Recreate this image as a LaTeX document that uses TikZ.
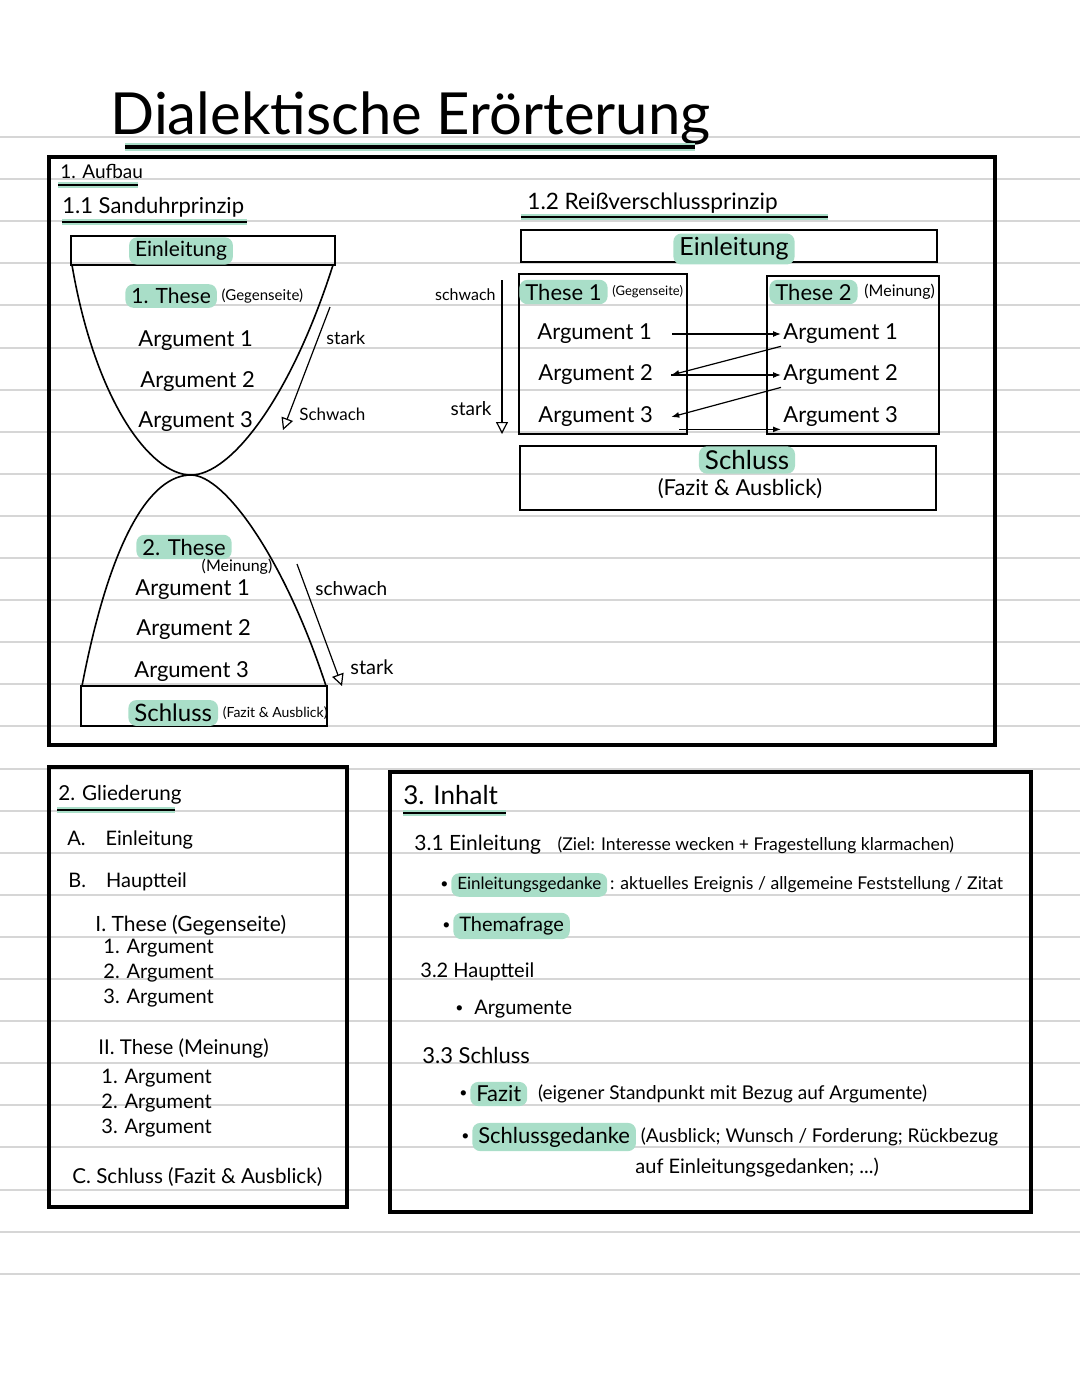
\documentclass[tikz,border=0pt]{standalone}
\usepackage{fontspec}
\setmainfont{Lato}
\usetikzlibrary{positioning,arrows.meta}
\definecolor{mint}{HTML}{A9DEC8}
\definecolor{paperline}{HTML}{D6D6D6}
\newcommand{\handsize}[1]{\fontsize{#1}{#1}\selectfont}

\begin{document}
\begin{tikzpicture}[yscale=-1,x=0.5pt,y=0.5pt,>=latex]
\tikzstyle{txt} = [inner sep=1pt, anchor=west, font=\handsize{10.5}]
\tikzstyle{hl} = [txt, fill=mint, rounded corners=4pt, inner xsep=3pt, inner ysep=2pt]
\tikzstyle{frame} = [line width=1.6pt]
\tikzstyle{box} = [line width=1pt]
\tikzstyle{glass} = [line width=0.8pt]
\tikzstyle{ul} = [line width=0.8pt, preaction={draw=mint, line width=3pt}]
\tikzstyle{trend} = [-{Triangle[open,length=6pt,width=6pt]}, line width=0.6pt]
\tikzstyle{zip} = [-{Latex[length=4pt,width=3pt]}, line width=0.6pt]

\useasboundingbox (0,0) rectangle (1080,1394);
\foreach \ly in {0,...,27}
  \draw[paperline, line width=1pt] (0,{137+42.1*\ly}) -- (1080,{137+42.1*\ly});

\node[txt, font=\handsize{29}] (Title) at (108,118) {Dialektische Erörterung};
\draw[ul, line width=1.6pt, preaction={draw=mint, line width=4pt}] (125,147) -- (695,147);

\draw[frame] (49,157) rectangle (995,745);
\draw[frame] (49,767) rectangle (347,1207);
\draw[frame] (390,772) rectangle (1031,1212);

\node[txt, font=\handsize{9.5}] (Aufbau) at (58,171) {1. Aufbau};
\draw[ul] (58,185) -- (138,185);
\node[txt, font=\handsize{11}] (Sanduhr) at (60,207) {1.1 Sanduhrprinzip};
\draw[ul] (62,222) -- (247,222);

\draw[box] (71,236) rectangle (335,265);
\draw[box] (81,686) rectangle (327,726);
\draw[glass] (72,265) .. controls (95,400) and (150,475) .. (191,475)
  .. controls (230,475) and (290,400) .. (333,265);
\draw[glass] (82,686) .. controls (110,540) and (150,475) .. (191,475)
  .. controls (225,475) and (285,560) .. (326,686);

\node[hl, anchor=center] (EinlA) at (181,251) {Einleitung};
\node[hl] (TheseA) at (125,296) {1. These};
\node[txt, font=\handsize{7.5}, right=1pt of TheseA] (TheseAnote) {(Gegenseite)};
\node[txt, font=\handsize{11}] (ArgA1) at (136,341) {Argument 1};
\node[txt, font=\handsize{11}] (ArgA2) at (138,382) {Argument 2};
\node[txt, font=\handsize{11}] (ArgA3) at (136,422) {Argument 3};
\coordinate (TopA) at (330,307);
\coordinate (BotA) at (283,430);
\draw[trend] (TopA) -- (BotA);
\node[txt, font=\handsize{9}] (StarkA) at (324,338) {stark};
\node[txt, font=\handsize{8.5}] (SchwachA) at (297,414) {Schwach};

\node[hl, font=\handsize{11}] (TheseB) at (136,547) {2. These};
\node[txt, anchor=center, font=\handsize{8}] (TheseBnote) at (237,567) {(Meinung)};
\node[txt, font=\handsize{11}] (ArgB1) at (133,590) {Argument 1};
\node[txt, font=\handsize{11}] (ArgB2) at (134,630) {Argument 2};
\node[txt, font=\handsize{11}] (ArgB3) at (132,672) {Argument 3};
\coordinate (TopB) at (297,564);
\coordinate (BotB) at (342,686);
\draw[trend] (TopB) -- (BotB);
\node[txt, font=\handsize{9.5}] (SchwachB) at (313,589) {schwach};
\node[txt, font=\handsize{10}] (StarkB) at (348,667) {stark};
\node[hl, font=\handsize{12}] (SchlussA) at (128,713) {Schluss};
\node[txt, font=\handsize{7}, right=1pt of SchlussA] (SchlussAnote) {(Fazit \& Ausblick)};

\node[txt, font=\handsize{11.3}] (Reiss) at (525,203) {1.2 Reißverschlussprinzip};
\draw[ul] (521,217) -- (828,217);
\draw[box] (521,230) rectangle (937,262);
\draw[box] (519,274) rectangle (687,434);
\draw[box] (767,276) rectangle (939,434);
\draw[box] (520,446) rectangle (936,510);

\node[hl, anchor=center, font=\handsize{12.5}] (EinlB) at (734,249) {Einleitung};
\node[hl, font=\handsize{11}] (TheseC) at (519,292) {These 1};
\node[txt, font=\handsize{6.5}, right=1pt of TheseC] (TheseCnote) {(Gegenseite)};
\node[hl, font=\handsize{11}] (TheseD) at (769,292) {These 2};
\node[txt, font=\handsize{8}, right=2pt of TheseD] (TheseDnote) {(Meinung)};
\node[txt, font=\handsize{11}] (ArgC1) at (535,334) {Argument 1};
\node[txt, font=\handsize{11}] (ArgC2) at (536,375) {Argument 2};
\node[txt, font=\handsize{11}] (ArgC3) at (536,417) {Argument 3};
\node[txt, font=\handsize{11}] (ArgD1) at (781,334) {Argument 1};
\node[txt, font=\handsize{11}] (ArgD2) at (781,375) {Argument 2};
\node[txt, font=\handsize{11}] (ArgD3) at (781,417) {Argument 3};
\draw[zip] ([xshift=9pt]ArgC1.east) -- (ArgD1.west);
\draw[zip] (ArgD1.south west) -- ([xshift=8pt]ArgC2.east);
\draw[zip] ([xshift=8pt]ArgC2.east) -- (ArgD2.west);
\draw[zip] (ArgD2.south west) -- ([xshift=8pt]ArgC3.east);
\draw[zip] ([xshift=12pt]ArgC3.south east) -- (ArgD3.south west);
\coordinate (TopC) at (502,280);
\coordinate (BotC) at (502,434);
\draw[trend] (TopC) -- (BotC);
\node[txt, anchor=east, font=\handsize{8}] (SchwachC) at (498,295) {schwach};
\node[txt, anchor=east, font=\handsize{9.5}] (StarkC) at (494,409) {stark};
\node[hl, anchor=center, font=\handsize{13}] (SchlussB) at (747,460) {Schluss};
\node[txt, anchor=center, font=\handsize{11}] (SchlussBnote) at (740,489) {(Fazit \& Ausblick)};

\node[txt, font=\handsize{10.3}] (Glied) at (56,795) {2. Gliederung};
\draw[ul] (57,810) -- (175,810);
\node[txt, font=\handsize{10}] (GlA) at (65,840) {A.\quad Einleitung};
\node[txt, font=\handsize{10}] (GlB) at (66,882) {B.\quad Hauptteil};
\node[txt, font=\handsize{10.5}] (GlI) at (93,925) {I. These (Gegenseite)};
\node[txt, font=\handsize{10}] (GlI1) at (101,948) {1. Argument};
\node[txt, font=\handsize{10}] (GlI2) at (101,973) {2. Argument};
\node[txt, font=\handsize{10}] (GlI3) at (101,998) {3. Argument};
\node[txt, font=\handsize{10.2}] (GlII) at (96,1048) {II. These (Meinung)};
\node[txt, font=\handsize{10}] (GlII1) at (99,1078) {1. Argument};
\node[txt, font=\handsize{10}] (GlII2) at (99,1103) {2. Argument};
\node[txt, font=\handsize{10}] (GlII3) at (99,1128) {3. Argument};
\node[txt, font=\handsize{10.3}] (GlC) at (70,1177) {C. Schluss (Fazit \& Ausblick)};

\node[txt, font=\handsize{13}] (Inhalt) at (401,795) {3. Inhalt};
\draw[ul] (403,813) -- (506,813);
\node[txt, font=\handsize{10.5}] (InE) at (412,845) {3.1 Einleitung};
\node[txt, font=\handsize{8.8}, right=6pt of InE] (InEnote) {(Ziel: Interesse wecken + Fragestellung klarmachen)};
\node[txt, font=\handsize{7}] (DotA) at (438,885) {•};
\node[hl, font=\handsize{8.5}, right=0pt of DotA] (EinlGed) {Einleitungsgedanke};
\node[txt, font=\handsize{8.8}, right=0pt of EinlGed] (EinlGednote) {: aktuelles Ereignis / allgemeine Feststellung / Zitat};
\node[txt, font=\handsize{7}] (DotB) at (440,926) {•};
\node[hl, font=\handsize{10}, right=0pt of DotB] (Thema) {Themafrage};
\node[txt, font=\handsize{10}] (InH) at (418,972) {3.2 Hauptteil};
\node[txt, font=\handsize{7}] (DotC) at (453,1009) {•};
\node[txt, font=\handsize{10}, right=3pt of DotC] (Argm) {Argumente};
\node[txt, font=\handsize{11}] (InS) at (420,1055) {3.3 Schluss};
\node[txt, font=\handsize{7}] (DotD) at (457,1094) {•};
\node[hl, font=\handsize{11}, right=0pt of DotD] (Fazit) {Fazit};
\node[txt, font=\handsize{9.5}, right=4pt of Fazit] (Fazitnote) {(eigener Standpunkt mit Bezug auf Argumente)};
\node[txt, font=\handsize{7}] (DotE) at (459,1137) {•};
\node[hl, font=\handsize{11}, right=0pt of DotE] (SchlGed) {Schlussgedanke};
\node[txt, font=\handsize{9.5}, right=1pt of SchlGed] (SchlGednote) {(Ausblick; Wunsch / Forderung; Rückbezug};
\node[txt, font=\handsize{10}] (SchlGedtwo) at (633,1168) {auf Einleitungsgedanken; ...)};
\end{tikzpicture}
\end{document}
